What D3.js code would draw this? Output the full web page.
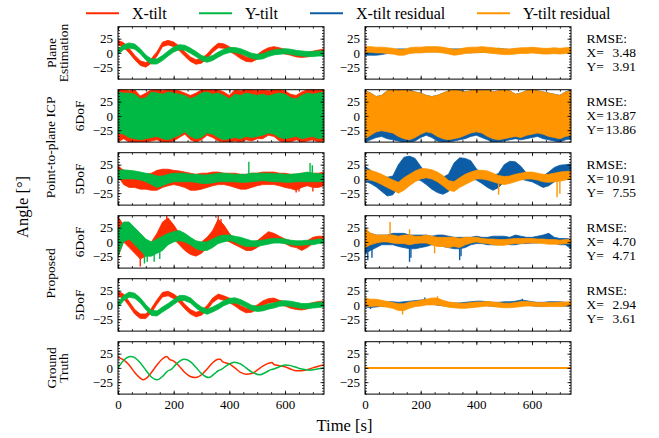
<!DOCTYPE html>
<html><head><meta charset="utf-8">
<script src="https://cdn.jsdelivr.net/npm/d3@7"></script>
<style>
body{margin:0;background:#fff}
text{font-family:"Liberation Serif","Times New Roman",serif;fill:#000}
</style>
</head><body>
<svg id="chart" width="659" height="438"></svg>
<script>
// ---------------- DATA ----------------
const seriesNames = ["X-tilt", "Y-tilt", "X-tilt residual", "Y-tilt residual"];
const seriesColors = ["#FF2C00", "#00B945", "#0C5DA5", "#FF9500"];
const xTickValues = [0, 200, 400, 600];
const yTickValues = [-25, 0, 25];
const rmseX = ["3.48", "13.87", "10.91", "4.70", "2.94"];
const rmseY = ["3.91", "13.86", "7.55", "4.71", "3.61"];

// common sample times [s]
const times = [0,20,40,60,80,100,120,140,160,180, 200,220,240,260,280,300,320,340,360,380,
               400,420,440,460,480,500,520,540,560,580, 600,620,640,660,680,700,720,740];

// Row 1: Plane Estimation (centre + half-width)
const peRedC    = [18,14,4,-8,-18,-21,-14,-2,15,18, 15,8,-2,-11,-16,-14,-6,5,13,12, 7,1,-6,-11,-12,-7,0,5,7,5, 2,0,-3,-4,-3,-1,1,3];
const peGreenC  = [2,10,13,11,3,-8,-15,-15,-9,-1, 6,10,9,4,-2,-9,-12,-9,-3,2, 5,5,3,-1,-5,-7,-6,-2,1,2, 3,2,0,-1,-2,-2,-1,-1];
const peBlueC   = [-1,-1,-1,0,2,3,4,4,3,4, 4,5,5,5,5,4,4,4,4,3, 4,4,5,4,5,4,3,4,4,5, 5,4,3,3,3,3,4,4];
const peOrangeC = [6,6,5,5,4,3,1,1,4,5, 5,6,6,6,5,3,1,2,4,5, 5,6,5,4,3,2,2,3,4,4, 5,4,3,3,4,3,4,5];
const peHalfWidth = [4, 4.5, 3, 5];

// Row 2: Point-to-plane ICP 6DoF (low / high envelopes)
const p6RedHi    = [46,46,44,46,35,40,46,46,44,46, 46,44,40,36,40,46,46,46,46,42, 36,46,44,46,46,44,46,44,46,46, 44,38,36,42,46,46,46,46];
const p6RedLo    = [-46,-40,-46,-46,-46,-46,-44,-42,-46,-46, -44,-38,-32,-42,-46,-42,-34,-38,-44,-46, -46,-44,-46,-42,-44,-40,-40,-34,-36,-44, -46,-46,-42,-46,-44,-42,-46,-44];
const p6GreenHi  = [42,40,40,38,30,32,42,40,38,42, 40,38,36,30,34,40,42,38,40,36, 30,38,36,40,38,36,38,35,38,40, 38,32,30,36,40,38,40,42];
const p6GreenLo  = [-30,-32,-38,-40,-42,-40,-38,-36,-40,-42, -38,-34,-28,-36,-40,-38,-30,-32,-38,-42, -40,-38,-40,-36,-38,-36,-34,-30,-32,-38, -40,-38,-36,-40,-38,-36,-40,-38];
const p6BlueHi   = [44,40,34,36,44,46,46,46,46,42, 40,36,34,36,40,44,46,46,42,44, 46,44,46,42,44,46,44,38,40,44, 46,44,42,40,38,36,42,46];
const p6BlueLo   = [-46,-42,-38,-36,-40,-42,-44,-46,-46,-44, -38,-34,-38,-44,-46,-46,-44,-42,-40,-36, -34,-38,-42,-46,-46,-44,-42,-40,-42,-40, -38,-36,-40,-42,-44,-46,-42,-40];
const p6OrangeHi = [44,40,34,36,44,46,44,46,44,42, 40,36,34,36,40,44,46,44,42,44, 46,44,46,42,44,46,44,38,40,44, 46,44,42,40,38,36,42,44];
const p6OrangeLo = [-40,-34,-28,-26,-28,-30,-36,-40,-42,-38, -32,-28,-30,-36,-40,-42,-40,-38,-34,-30, -28,-30,-36,-40,-42,-40,-38,-36,-38,-34, -32,-30,-32,-36,-38,-40,-36,-34];

// Row 3: Point-to-plane ICP 5DoF
const p5RedHi    = [23,15,12,10,8,8,10,15,17,17, 15,14,12,10,8,10,10,12,12,10, 10,10,8,8,10,10,12,12,12,10, 10,8,8,10,10,10,10,12];
const p5RedLo    = [5,-10,-15,-15,-18,-18,-20,-20,-15,-12, -10,-12,-15,-20,-20,-18,-15,-12,-10,-10, -12,-15,-18,-18,-15,-12,-10,-10,-10,-12, -15,-17,-20,-15,-12,-15,-15,-12];
const p5GreenHi  = [15,16,15,14,12,10,8,5,5,8, 10,10,10,8,8,7,7,8,10,10, 9,8,8,8,10,10,10,10,9,9, 8,8,9,10,12,10,9,8];
const p5GreenLo  = [-2,0,0,0,-2,-5,-10,-15,-12,-8, -5,-5,-5,-5,-6,-8,-8,-7,-5,-5, -5,-5,-6,-6,-5,-4,-3,-4,-5,-5, -6,-6,-5,-5,-5,-5,-5,-4];
const p5BlueHi   = [22,15,8,5,3,5,25,38,40,36, 22,10,8,5,3,8,28,37,36,32, 18,8,5,5,10,25,31,30,22,10, 6,5,5,12,20,24,25,26];
const p5BlueLo   = [-4,-8,-14,-22,-30,-28,-15,-5,-3,0, -3,-10,-18,-24,-27,-22,-10,-3,0,0, -2,-8,-15,-20,-15,-5,-2,0,0,-3, -5,-10,-15,-12,-5,-2,0,0];
const p5OrangeHi = [16,15,12,8,3,-2,-6,2,8,14, 18,18,16,12,6,-3,-5,2,8,12, 15,15,14,10,6,4,5,8,10,12, 12,10,8,8,10,12,13,14];
const p5OrangeLo = [-2,-2,-5,-10,-15,-20,-25,-20,-12,-5, 0,2,0,-5,-12,-20,-22,-15,-10,-5, 0,0,-2,-5,-8,-10,-8,-5,-2,0, 0,-2,-5,-6,-5,-4,-2,0];
const p5RedSpikes    = [[640,-18,-24],[650,-16,-22],[700,-15,-22]];
const p5GreenSpikes  = [[470,8,30],[690,10,28],[698,8,24]];
const p5OrangeSpikes = [[480,-8,-28],[690,-5,-32],[700,-4,-26]];

// Row 4: Proposed 6DoF
const pr6RedHi    = [44,30,10,0,-5,-5,0,15,35,42, 30,15,5,0,-5,0,8,20,40,30, 15,5,0,-3,-2,2,10,18,15,10, 5,2,0,-2,2,8,10,10];
const pr6RedLo    = [-26,0,-10,-20,-30,-25,-20,-5,5,10, 5,-5,-15,-22,-25,-20,-10,0,8,5, 0,-5,-10,-15,-15,-10,-2,2,2,0, -3,-8,-10,-15,-10,-3,0,0];
const pr6GreenHi  = [20,35,35,25,15,5,0,5,10,15, 18,20,15,8,2,0,0,5,10,12, 12,10,8,5,2,2,3,5,6,6, 5,3,2,2,3,3,5,5];
const pr6GreenLo  = [-25,0,5,-5,-15,-25,-25,-20,-15,-5, 0,2,0,-5,-12,-15,-15,-10,-3,0, 2,0,-5,-8,-8,-8,-6,-4,-2,-2, -3,-5,-6,-6,-5,-5,-3,-3];
const pr6BlueHi   = [20,15,12,12,12,15,15,15,12,12, 12,12,10,12,12,10,8,8,8,8, 10,8,8,10,10,10,8,12,10,8, 8,10,12,15,8,6,6,5];
const pr6BlueLo   = [-20,-15,-10,-5,-5,-5,-8,-10,-12,-12, -10,-8,-5,-5,-8,-10,-12,-12,-10,-5, -3,-3,-5,-5,-5,-3,-5,-5,-3,-3, -2,-2,0,0,-2,-5,-5,-12];
const pr6OrangeHi = [25,15,12,12,12,12,10,12,12,10, 10,12,10,8,8,8,8,6,8,8, 8,6,5,5,4,4,5,6,6,6, 6,5,5,4,4,3,4,5];
const pr6OrangeLo = [-10,-5,-2,0,0,-2,-3,-3,-5,-3, -2,-2,-5,-8,-8,-10,-8,-10,-5,-2, 0,-2,-3,-5,-6,-6,-4,-3,-3,-2, -2,-2,-3,-4,-4,-4,-3,-2];
const pr6RedSpikes    = [[80,-25,-43],[175,35,46],[360,30,46],[370,25,40]];
const pr6GreenSpikes  = [[95,-20,-38],[105,-20,-35],[130,-18,-35],[150,-12,-30]];
const pr6BlueSpikes   = [[10,-10,-32],[25,-10,-28],[160,-8,-35],[165,-8,-28],[340,-8,-32],[345,-8,-25]];
const pr6OrangeSpikes = [[90,10,35],[160,10,22],[250,-5,-20]];

// Row 5: Proposed 5DoF
const pr5RedC    = [20,15,2,-12,-20,-20,-10,5,18,20, 15,8,-3,-12,-17,-14,-5,8,15,12, 8,2,-5,-10,-9,-4,3,7,8,4, 2,-2,-4,-5,-3,0,2,3];
const pr5GreenC  = [0,12,18,16,8,-4,-14,-15,-8,-2, 5,12,12,8,-1,-8,-12,-8,-3,3, 7,8,5,0,-5,-7,-6,-3,-1,2, 3,2,0,-2,-2,-1,0,1];
const pr5BlueC   = [0,-1,0,1,2,2,1,2,3,4, 5,6,5,3,2,1,0,0,1,2, 3,3,2,1,1,2,2,3,5,4, 2,1,1,2,2,2,1,0];
const pr5HalfWidth = [4, 4.5, 3.5];
const pr5OrangeHi = [12,10,10,8,6,4,2,2,5,6, 8,10,12,12,8,5,4,3,3,4, 5,5,6,5,4,3,3,4,6,6, 5,4,4,4,4,5,5,6];
const pr5OrangeLo = [-2,-3,-2,-3,-4,-6,-10,-10,-6,-3, -2,0,0,0,-2,-4,-5,-6,-6,-5, -4,-3,-2,-3,-4,-5,-5,-4,-3,-2, -2,-3,-3,-3,-3,-3,-2,-2];
const pr5BlueSpikes   = [[215,5,13],[565,5,11],[20,-3,-7]];
const pr5OrangeSpikes = [[135,-8,-17],[260,10,15]];

// Row 6: Ground truth [time, angle]
const gtRed = [[0,19],[20,14],[40,5],[60,-8],[80,-18],[90,-21],[100,-19],[120,-8],[140,5],[160,16],[175,20],[185,15],[200,12],
  [220,3],[240,-8],[260,-15],[280,-17],[300,-12],[320,-2],[340,9],[360,15],[368,15],[375,11],[400,7],[420,0],[440,-8],[460,-11],
  [480,-10],[500,-4],[520,3],[540,8],[553,9.5],[560,6],[580,4],[600,2],[620,-2],[640,-5],[660,-5],[680,-3],[700,0],[720,3],[740,5]];
const gtGreen = [[0,0],[20,13],[45,20],[60,18],[80,9],[100,-4],[120,-16],[140,-21],[160,-15],[175,-7],[180,-5],[190,-3],[210,7],
  [237,15],[260,11],[280,1],[300,-10],[327,-17],[345,-11],[360,-5],[370,-3],[390,4],[417,10],[440,7],[460,0],[480,-7],[510,-12],
  [530,-8],[550,-3],[560,-2],[580,2],[602,5],[620,4],[640,1],[660,-2],[690,-4],[715,-2],[740,0]];
const gtBlueResidual = [[0,0],[740,0]];
const gtOrangeResidual = [[0,0],[740,0]];

// ---------------- LAYOUT ----------------
const svg = d3.select("#chart");
const panelX = [[118, 324], [365, 571]];
const rowTop0 = 26.7, rowPitch = 63.0, rowH = 52.4;
const xDomain = [0, 740], yDomain = [-46, 46];
const [RED, GREEN, BLUE, ORANGE] = seriesColors;

const band = (lo, hi, color) => ({kind: "band", lo, hi, color});
const cband = (c, w, color) => ({kind: "band", lo: c.map(v => v - w), hi: c.map(v => v + w), color});
const spikes = (list, color) => ({kind: "spikes", list, color});
const line = (pts, color, width) => ({kind: "line", pts, color, width});

const rows = [
  {left: [cband(peRedC, peHalfWidth[0], RED), cband(peGreenC, peHalfWidth[1], GREEN)],
   right: [cband(peBlueC, peHalfWidth[2], BLUE), cband(peOrangeC, peHalfWidth[3], ORANGE)]},
  {left: [band(p6RedLo, p6RedHi, RED), band(p6GreenLo, p6GreenHi, GREEN)],
   right: [band(p6BlueLo, p6BlueHi, BLUE), band(p6OrangeLo, p6OrangeHi, ORANGE)]},
  {left: [band(p5RedLo, p5RedHi, RED), spikes(p5RedSpikes, RED), band(p5GreenLo, p5GreenHi, GREEN), spikes(p5GreenSpikes, GREEN)],
   right: [band(p5BlueLo, p5BlueHi, BLUE), band(p5OrangeLo, p5OrangeHi, ORANGE), spikes(p5OrangeSpikes, ORANGE)]},
  {left: [band(pr6RedLo, pr6RedHi, RED), spikes(pr6RedSpikes, RED), band(pr6GreenLo, pr6GreenHi, GREEN), spikes(pr6GreenSpikes, GREEN)],
   right: [band(pr6BlueLo, pr6BlueHi, BLUE), spikes(pr6BlueSpikes, BLUE), band(pr6OrangeLo, pr6OrangeHi, ORANGE), spikes(pr6OrangeSpikes, ORANGE)]},
  {left: [cband(pr5RedC, pr5HalfWidth[0], RED), cband(pr5GreenC, pr5HalfWidth[1], GREEN)],
   right: [cband(pr5BlueC, pr5HalfWidth[2], BLUE), spikes(pr5BlueSpikes, BLUE), band(pr5OrangeLo, pr5OrangeHi, ORANGE), spikes(pr5OrangeSpikes, ORANGE)]},
  {left: [line(gtRed, RED, 1.5), line(gtGreen, GREEN, 1.5)],
   right: [line(gtBlueResidual, BLUE, 2), line(gtOrangeResidual, ORANGE, 2)]}
];

const xMinor = d3.range(0, 741, 50);
const yMinor = d3.range(-45, 46, 5);

rows.forEach((row, r) => {
  const top = rowTop0 + r * rowPitch, bottom = top + rowH;
  ["left", "right"].forEach((side, s) => {
    const [x0, x1] = panelX[s];
    const x = d3.scaleLinear().domain(xDomain).range([x0, x1]);
    const y = d3.scaleLinear().domain(yDomain).range([bottom, top]);
    const cid = `clip-${r}-${s}`;
    svg.append("clipPath").attr("id", cid).append("rect")
      .attr("x", x0).attr("y", top).attr("width", x1 - x0).attr("height", rowH);
    const g = svg.append("g").attr("clip-path", `url(#${cid})`);
    row[side].forEach(L => {
      if (L.kind === "band") {
        const area = d3.area().x((d, i) => x(times[i])).y0((d, i) => y(L.lo[i])).y1((d, i) => y(L.hi[i]));
        g.append("path").datum(times).attr("d", area).attr("fill", L.color)
          .attr("stroke", L.color).attr("stroke-width", 0.8).attr("stroke-linejoin", "round");
      } else if (L.kind === "spikes") {
        g.selectAll(null).data(L.list).join("line")
          .attr("x1", d => x(d[0])).attr("x2", d => x(d[0]))
          .attr("y1", d => y(d[1])).attr("y2", d => y(d[2]))
          .attr("stroke", L.color).attr("stroke-width", 1.4);
      } else {
        const ln = d3.line().x(d => x(d[0])).y(d => y(d[1])).curve(d3.curveMonotoneX);
        g.append("path").datum(L.pts).attr("d", ln).attr("fill", "none")
          .attr("stroke", L.color).attr("stroke-width", L.width);
      }
    });

    // axes (ticks inward on all four sides)
    const last = r === rows.length - 1;
    const mk = (axisFn, scale, vals, size, fmt) => axisFn(scale).tickValues(vals).tickSizeInner(size).tickSizeOuter(0).tickFormat(fmt);
    const noFmt = () => "";
    const addAxis = (axis, tx, ty, pad) => {
      const a = svg.append("g").attr("transform", `translate(${tx},${ty})`).call(axis.tickPadding(pad));
      a.select(".domain").remove();
      a.selectAll("line").attr("stroke", "#000").attr("stroke-width", 0.8);
      a.selectAll("text").attr("font-size", 13).attr("font-family", '"Liberation Serif",serif').attr("fill", "#000");
      return a;
    };
    addAxis(mk(d3.axisBottom, x, xTickValues, -3.5, last ? d3.format("d") : noFmt), 0, bottom, 6);
    addAxis(mk(d3.axisBottom, x, xMinor, -2, noFmt), 0, bottom, 0);
    addAxis(mk(d3.axisTop, x, xTickValues, -3.5, noFmt), 0, top, 0);
    addAxis(mk(d3.axisTop, x, xMinor, -2, noFmt), 0, top, 0);
    addAxis(mk(d3.axisLeft, y, yTickValues, -3.5, d3.format("d")), x0, 0, 5);
    addAxis(mk(d3.axisLeft, y, yMinor, -2, noFmt), x0, 0, 0);
    addAxis(mk(d3.axisRight, y, yTickValues, -3.5, noFmt), x1, 0, 0);
    addAxis(mk(d3.axisRight, y, yMinor, -2, noFmt), x1, 0, 0);

    svg.append("rect").attr("x", x0).attr("y", top).attr("width", x1 - x0).attr("height", rowH)
      .attr("fill", "none").attr("stroke", "#000").attr("stroke-width", 1);
  });

  // RMSE annotation
  if (r < rmseX.length) {
    const tx = 586.5;
    const t = svg.append("g").attr("font-size", 13.5);
    t.append("text").attr("x", tx).attr("y", top + 16).text("RMSE:");
    t.append("text").attr("x", tx).attr("y", top + 30.3).text("X=");
    t.append("text").attr("x", 636).attr("y", top + 30.3).attr("text-anchor", "end").text(rmseX[r]);
    t.append("text").attr("x", tx).attr("y", top + 44.3).text("Y=");
    t.append("text").attr("x", 636).attr("y", top + 44.3).attr("text-anchor", "end").text(rmseY[r]);
  }
});

// Row labels (rotated)
function vlabel(lines, cx, cy, size) {
  const g = svg.append("g").attr("transform", `translate(${cx},${cy}) rotate(-90)`);
  const n = lines.length, lh = 11.8;
  lines.forEach((s, i) => {
    g.append("text").attr("x", 0).attr("y", (i - (n - 1) / 2) * lh).attr("dy", "0.35em")
      .attr("text-anchor", "middle").attr("font-size", size).text(s);
  });
}
const rowMid = r => rowTop0 + r * rowPitch + rowH / 2;
vlabel(["Plane", "Estimation"], 57.5, rowMid(0), 13.5);
vlabel(["Point-to-plane ICP"], 50.5, (rowMid(1) + rowMid(2)) / 2, 13.5);
vlabel(["6DoF"], 79, rowMid(1), 13.5);
vlabel(["5DoF"], 79, rowMid(2), 13.5);
vlabel(["Proposed"], 50.5, (rowMid(3) + rowMid(4)) / 2, 13.5);
vlabel(["6DoF"], 79, rowMid(3), 13.5);
vlabel(["5DoF"], 79, rowMid(4), 13.5);
vlabel(["Ground", "Truth"], 57.5, rowMid(5), 13.5);
vlabel(["Angle [°]"], 22, 207, 16.5);

// x-axis title
svg.append("text").attr("x", 344.5).attr("y", 431).attr("text-anchor", "middle").attr("font-size", 16.5).text("Time [s]");

// Legend
const legendX = [86, 199, 310, 477];
const lg = svg.append("g");
seriesNames.forEach((name, i) => {
  lg.append("line").attr("x1", legendX[i]).attr("x2", legendX[i] + 33).attr("y1", 13.3).attr("y2", 13.3)
    .attr("stroke", seriesColors[i]).attr("stroke-width", 2);
  lg.append("text").attr("x", legendX[i] + 46).attr("y", 18.8).attr("font-size", 16).text(name);
});
</script>
</body></html>
